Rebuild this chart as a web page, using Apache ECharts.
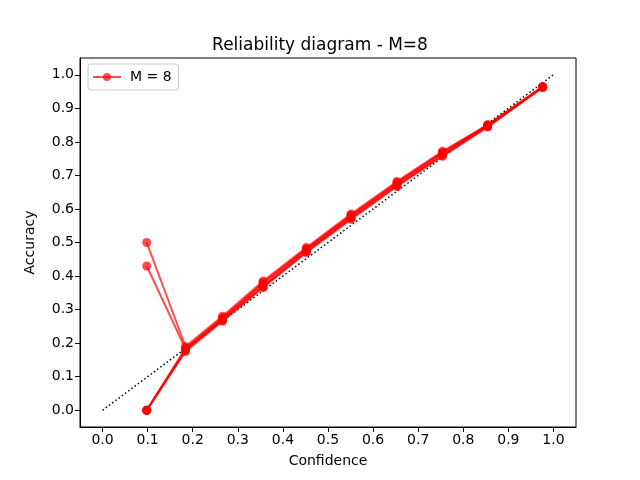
<!DOCTYPE html>
<html>
<head>
    <meta charset="utf-8">
    <title>Reliability diagram - M=8</title>
    <script src="https://cdn.jsdelivr.net/npm/echarts@6/dist/echarts.min.js"></script>
    <style>
        html, body { margin: 0; padding: 0; background: #fff; }
        #main { width: 640px; height: 480px; }
    </style>
</head>
<body>
    <div id="main"></div>
    <script type="text/javascript">
        // confidence (x) of each bin, shared by all runs
        var binConf = [0.098, 0.184, 0.266, 0.356, 0.452, 0.551, 0.653, 0.754, 0.854, 0.976];
        // accuracy per bin, one array per run
        var run1 = [0.50, 0.190, 0.280, 0.385, 0.485, 0.585, 0.682, 0.772, 0.851, 0.963];
        var run2 = [0.43, 0.183, 0.276, 0.378, 0.481, 0.581, 0.677, 0.767, 0.849, 0.963];
        var run3 = [0.00, 0.178, 0.270, 0.370, 0.475, 0.575, 0.672, 0.762, 0.846, 0.963];
        var run4 = [0.00, 0.175, 0.265, 0.365, 0.470, 0.569, 0.667, 0.757, 0.844, 0.962];
        var run5 = [0.00, 0.181, 0.268, 0.368, 0.472, 0.572, 0.670, 0.760, 0.847, 0.964];
        var run6 = [0.00, 0.185, 0.273, 0.380, 0.480, 0.579, 0.678, 0.769, 0.850, 0.965];
        var runs = [run1, run2, run3, run4, run5, run6];
        // perfect calibration diagonal
        var diagX = [0, 1];
        var tickVals = [0, 0.1, 0.2, 0.3, 0.4, 0.5, 0.6, 0.7, 0.8, 0.9, 1.0];

        var myChart = echarts.init(document.getElementById('main'));
        var font = 'DejaVu Sans';

        var series = [{
            name: 'diag',
            type: 'line',
            data: diagX.map(function (v) { return [v, v]; }),
            symbol: 'none',
            silent: true,
            z: 1,
            lineStyle: { color: '#000', width: 1.5, type: [1.5, 2.5] }
        }];
        runs.forEach(function (r) {
            series.push({
                name: 'M = 8',
                type: 'line',
                data: r.map(function (v, i) { return [binConf[i], v]; }),
                symbol: 'circle',
                symbolSize: 9,
                z: 2,
                itemStyle: { color: '#ff0000', opacity: 0.7 },
                lineStyle: { color: '#ff0000', width: 2, opacity: 0.7 }
            });
        });

        function axisCfg(name, gap) {
            return {
                type: 'value',
                min: -0.05,
                max: 1.05,
                name: name,
                nameLocation: 'middle',
                nameGap: gap,
                nameTextStyle: { fontFamily: font, fontSize: 14, color: '#000' },
                axisLine: { show: true, onZero: false, lineStyle: { color: '#000' } },
                axisTick: { show: true, length: 5, customValues: tickVals, lineStyle: { color: '#000' } },
                axisLabel: {
                    customValues: tickVals,
                    fontFamily: font, fontSize: 14, color: '#000', margin: 6,
                    formatter: function (v) { return v.toFixed(1); }
                },
                splitLine: { show: false }
            };
        }

        var option = {
            animation: false,
            backgroundColor: '#fff',
            title: {
                text: 'Reliability diagram - M=8',
                left: 'center',
                top: 32,
                textStyle: { fontFamily: font, fontSize: 17, fontWeight: 'normal', color: '#000' }
            },
            legend: {
                data: ['M = 8'],
                left: 88,
                top: 64,
                padding: [6, 7, 6, 4],
                itemWidth: 28,
                itemHeight: 10,
                itemGap: 8,
                borderColor: '#ccc',
                borderWidth: 1,
                borderRadius: 3,
                textStyle: { fontFamily: font, fontSize: 14, color: '#000', padding: [0, 0, 0, 4] }
            },
            grid: {
                left: 80, right: 64, top: 58, bottom: 53,
                show: true,
                borderColor: '#000',
                borderWidth: 1,
                backgroundColor: 'transparent'
            },
            xAxis: axisCfg('Confidence', 27),
            yAxis: axisCfg('Accuracy', 43),
            series: series
        };
        myChart.setOption(option);
    </script>
</body>
</html>
